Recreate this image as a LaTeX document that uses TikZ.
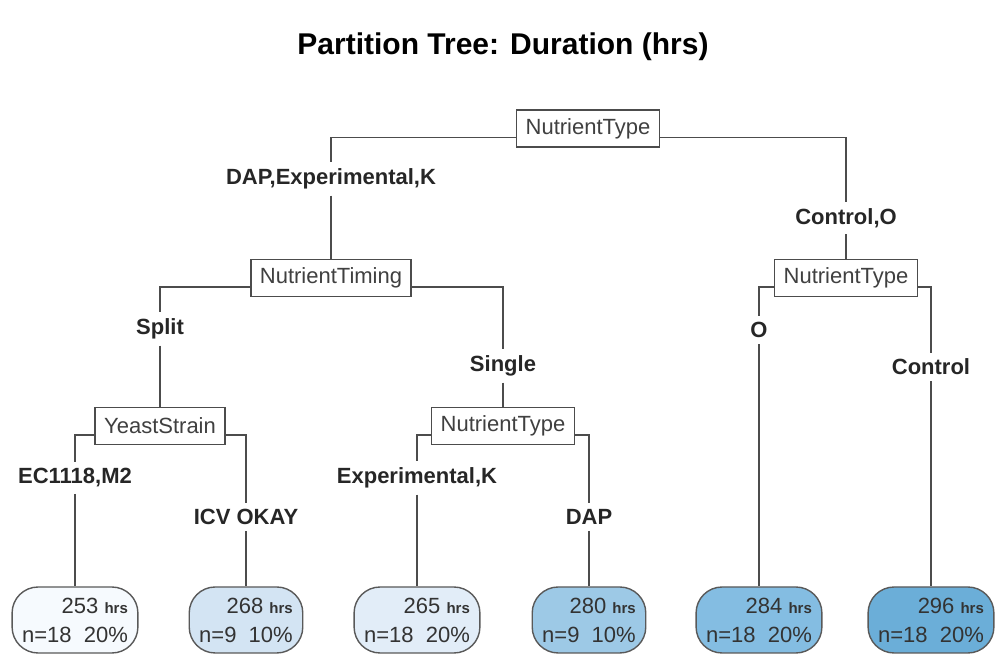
\documentclass[tikz,border=0pt]{standalone}
\usepackage{fontspec}
\setmainfont{Liberation Sans}
\usetikzlibrary{positioning}

\definecolor{leafA}{HTML}{F6FAFE}
\definecolor{leafB}{HTML}{D3E4F3}
\definecolor{leafC}{HTML}{E2EDF8}
\definecolor{leafD}{HTML}{9DC9E6}
\definecolor{leafE}{HTML}{84BDE2}
\definecolor{leafF}{HTML}{6BAED8}

\tikzset{
  split/.style={draw=black!70, fill=white, text=black!75, font=\fontsize{11}{13}\selectfont,
    inner xsep=4.5pt, inner ysep=0pt, minimum height=18.5pt, line width=0.7pt},
  edgelbl/.style={font=\bfseries\fontsize{11}{13}\selectfont, text=black!85, inner sep=3pt},
  leaf/.style={draw=black!65, rounded corners=13pt, align=right, text=black!80,
    font=\fontsize{11}{14.5}\selectfont, inner xsep=5pt, minimum height=33pt, line width=0.7pt},
  branch/.style={draw=black!70, line width=0.8pt},
}
\newcommand{\hrsunit}{{\bfseries\fontsize{7.5}{9}\selectfont hrs}}

\begin{document}
\begin{tikzpicture}[x=0.5pt, y=-0.5pt]

\useasboundingbox (0,0) rectangle (1003,656);

\node [font=\bfseries\fontsize{15}{18}\selectfont] (title) at (503,47) {Partition Tree: Duration (hrs)};

% split nodes
\node [split] (root) at (588,128.5) {NutrientType};
\node [split] (timing) at (331,278) {NutrientTiming};
\node [split] (typeB) at (846,278) {NutrientType};
\node [split] (yeast) at (160,426) {YeastStrain};
\node [split] (typeC) at (503,426) {NutrientType};

% branch labels
\node [edgelbl] (lDAPEK) at (331,179) {DAP,Experimental,K};
\node [edgelbl] (lCO) at (846,218) {Control,O};
\node [edgelbl] (lSplit) at (160,329) {Split};
\node [edgelbl] (lSingle) at (503,366) {Single};
\node [edgelbl] (lO) at (759,330) {O};
\node [edgelbl] (lCtrl) at (931,367) {Control};
\node [edgelbl] (lEC) at (75,478) {EC1118,M2};
\node [edgelbl] (lICV) at (246,517) {ICV OKAY};
\node [edgelbl] (lEK) at (417,478) {Experimental,K};
\node [edgelbl] (lDAP) at (589,517) {DAP};

% leaves
\node [leaf, fill=leafA] (leafA) at (75,620) {253 \hrsunit\\n=18\ \ 20\%};
\node [leaf, fill=leafB] (leafB) at (246,620) {268 \hrsunit\\n=9\ \ 10\%};
\node [leaf, fill=leafC] (leafC) at (417,620) {265 \hrsunit\\n=18\ \ 20\%};
\node [leaf, fill=leafD] (leafD) at (589,620) {280 \hrsunit\\n=9\ \ 10\%};
\node [leaf, fill=leafE] (leafE) at (759,620) {284 \hrsunit\\n=18\ \ 20\%};
\node [leaf, fill=leafF] (leafF) at (931,620) {296 \hrsunit\\n=18\ \ 20\%};

% branches
\draw [branch] ([yshift=-4.5pt]root.west) -| (lDAPEK);
\draw [branch] (lDAPEK) -- (timing);
\draw [branch] ([yshift=-4.5pt]root.east) -| (lCO);
\draw [branch] (lCO) -- (typeB);

\draw [branch] ([yshift=-4.5pt]timing.west) -| (lSplit);
\draw [branch] (lSplit) -- (yeast);
\draw [branch] ([yshift=-4.5pt]timing.east) -| (lSingle);
\draw [branch] (lSingle) -- (typeC);

\draw [branch] ([yshift=-4.5pt]typeB.west) -| (lO);
\draw [branch] (lO) -- (leafE);
\draw [branch] ([yshift=-4.5pt]typeB.east) -| (lCtrl);
\draw [branch] (lCtrl) -- (leafF);

\draw [branch] ([yshift=-4.5pt]yeast.west) -| (lEC);
\draw [branch] (lEC) -- (leafA);
\draw [branch] ([yshift=-4.5pt]yeast.east) -| (lICV);
\draw [branch] (lICV) -- (leafB);

\draw [branch] ([yshift=-4.5pt]typeC.west) -| (lEK);
\draw [branch] (lEK) -- (leafC);
\draw [branch] ([yshift=-4.5pt]typeC.east) -| (lDAP);
\draw [branch] (lDAP) -- (leafD);

\end{tikzpicture}
\end{document}
